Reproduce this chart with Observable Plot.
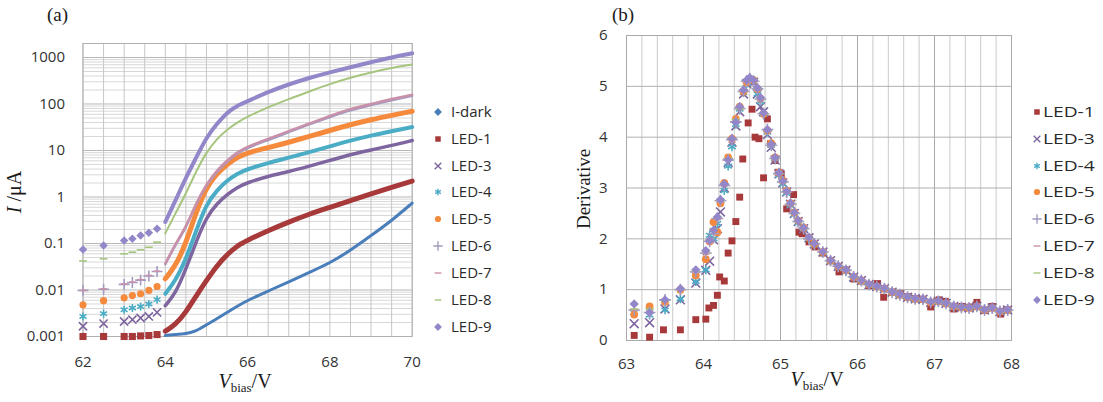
<!DOCTYPE html>
<html><head><meta charset="utf-8">
<script src="https://cdn.jsdelivr.net/npm/d3@7"></script>
<script src="https://cdn.jsdelivr.net/npm/@observablehq/plot@0.6"></script>
<style>
body{margin:0;background:#fff;}
#root{position:relative;width:1103px;height:402px;overflow:hidden;font-family:"Open Sans",sans-serif;background:#fff;}
.abs{position:absolute;white-space:nowrap;}
.serif{font-family:"Liberation Serif","DejaVu Serif",serif;color:#1a1a1a;line-height:1;}
.rot{transform:translate(-50%,-50%) rotate(-90deg);}
.ctr{transform:translate(-50%,-50%);}
.leg{font-family:"Open Sans",sans-serif;font-size:15px;color:#2a2a2a;line-height:1;}
</style></head><body><div id="root"></div>
<script>
// ---------------- DATA: panel (a) ----------------
const namesA = ["I-dark","LED-1","LED-3","LED-4","LED-5","LED-6","LED-7","LED-8","LED-9"];
const voltsA = [62, 62.5, 63, 63.2, 63.4, 63.6, 63.8, 64, 64.25, 64.5, 64.75, 65, 65.25, 65.5, 65.75, 66, 66.5, 67, 67.5, 68, 68.5, 69, 69.5, 70];
const xTicksA = [62, 64, 66, 68, 70];
const yTicksA = [0.001, 0.01, 0.1, 1, 10, 100, 1000];
const iDark = [null, null, null, null, null, null, null, 0.00105, 0.0011, 0.00115, 0.0013, 0.0018, 0.0024, 0.0033, 0.0045, 0.006, 0.0095, 0.015, 0.024, 0.038, 0.071, 0.148, 0.31, 0.74];
const led1A = [0.001, 0.001, 0.001, 0.001, 0.00103, 0.00105, 0.0011, 0.0013, 0.0018, 0.0033, 0.0075, 0.016, 0.033, 0.058, 0.09, 0.118, 0.19, 0.29, 0.43, 0.6, 0.84, 1.17, 1.62, 2.2];
const led3A = [0.00166, 0.0019, 0.0021, 0.0023, 0.0025, 0.0027, 0.0033, 0.0046, 0.0085, 0.028, 0.11, 0.37, 0.71, 1.13, 1.62, 2.05, 2.8, 3.5, 4.6, 6.1, 8.2, 10.3, 12.8, 16.4];
const led4A = [0.0027, 0.0031, 0.00375, 0.0041, 0.0044, 0.005, 0.0062, 0.0083, 0.016, 0.045, 0.19, 0.71, 1.38, 2.26, 3.2, 4.0, 5.4, 7.0, 9.2, 12.2, 16.4, 21, 26, 32];
const led5A = [0.0048, 0.0059, 0.0068, 0.0076, 0.0083, 0.0098, 0.0119, 0.0174, 0.033, 0.1, 0.48, 1.62, 3.2, 5.0, 7.2, 9.0, 11.5, 15, 20, 27, 36, 46, 57, 70];
const led6A = [0.0098, 0.0104, 0.0132, 0.0145, 0.0163, 0.02, 0.025, 0.035, 0.093, 0.21, 0.7, 1.78, 3.45, 5.7, 8.6, 11.4, 16.6, 24.5, 36, 52, 74, 93, 120, 148];
const led7A = [0.0098, 0.0106, 0.0135, 0.0148, 0.0167, 0.0205, 0.0253, 0.037, 0.1, 0.224, 0.75, 1.9, 3.7, 6.1, 9.2, 12.2, 17.8, 26, 38, 56, 79, 100, 129, 158];
const led8A = [0.042, 0.047, 0.06, 0.065, 0.073, 0.083, 0.107, 0.166, 0.45, 1.17, 3.6, 9.2, 17.8, 28, 40, 54, 85, 128, 185, 270, 370, 480, 600, 708];
const led9A = [0.074, 0.091, 0.116, 0.126, 0.148, 0.17, 0.208, 0.29, 0.85, 2.6, 7, 19.3, 37, 66, 93, 115, 182, 265, 365, 480, 620, 790, 1010, 1230];

// ---------------- DATA: panel (b) ----------------
const namesB = ["LED-1","LED-3","LED-4","LED-5","LED-6","LED-7","LED-8","LED-9"];
const xTicksB = [63, 64, 65, 66, 67, 68];
const yTicksB = [0, 1, 2, 3, 4, 5, 6];
const voltsB1 = [63.1, 63.3, 63.48, 63.7, 63.9, 64.03, 64.07, 64.13, 64.18, 64.21, 64.27, 64.32, 64.37, 64.42, 64.47, 64.51, 64.58, 64.63, 64.67, 64.72, 64.78, 64.83, 64.87, 64.93, 64.97, 65.01, 65.08, 65.17, 65.24, 65.28, 65.37, 65.45, 65.55, 65.65, 65.76, 65.84, 65.95, 66.05, 66.15, 66.26, 66.34, 66.45, 66.56, 66.65, 66.75, 66.84, 66.95, 67.06, 67.14, 67.25, 67.36, 67.47, 67.55, 67.64, 67.75, 67.86, 67.94];
const led1B = [0.1, 0.065, 0.21, 0.21, 0.41, 0.42, 0.64, 0.69, 0.89, 1.25, 1.17, 1.72, 1.96, 2.34, 2.82, 3.57, 4.28, 4.55, 4.0, 3.97, 3.2, 4.36, 3.87, 3.54, 3.31, 3.28, 2.59, 2.87, 2.13, 2.10, 1.94, 1.84, 1.72, 1.57, 1.35, 1.39, 1.21, 1.17, 1.08, 1.12, 0.85, 0.95, 0.92, 0.86, 0.82, 0.81, 0.66, 0.80, 0.77, 0.62, 0.67, 0.66, 0.75, 0.59, 0.67, 0.52, 0.60];
const voltsB = [63.1, 63.3, 63.5, 63.7, 63.9,
  64.03, 64.08, 64.13, 64.18, 64.22, 64.27, 64.32, 64.37, 64.42, 64.47,
  64.52, 64.56, 64.6, 64.65, 64.7, 64.74, 64.78, 64.83, 64.88, 64.93,
  64.98, 65.03, 65.08, 65.13, 65.18, 65.23, 65.3, 65.37, 65.44, 65.55,
  65.65, 65.75, 65.85, 65.95, 66.05, 66.15, 66.25, 66.35, 66.45, 66.55,
  66.65, 66.75, 66.85, 66.95, 67.05, 67.15, 67.25, 67.35, 67.45, 67.55,
  67.65, 67.75, 67.85, 67.95];
const led3B = [0.33, 0.35, 0.62, 0.80, 1.13,
  1.38, 1.56, 1.98, 2.20, 2.53, 3.00, 3.50, 3.90, 4.22, 4.50,
  4.85, 5.05, 5.10, 5.08, 4.85, 4.60, 4.50, 4.05, 3.80, 3.55,
  3.28, 3.10, 2.92, 2.68, 2.50, 2.34, 2.20, 2.02, 1.90, 1.74,
  1.57, 1.46, 1.38, 1.25, 1.18, 1.10, 1.06, 1.02, 0.95, 0.90,
  0.85, 0.82, 0.81, 0.75, 0.77, 0.73, 0.67, 0.65, 0.64, 0.67,
  0.60, 0.64, 0.57, 0.60];
const led4B = [0.55, 0.50, 0.60, 0.82, 1.16,
  1.39, 2.07, 2.00, 2.30, 2.75, 2.95, 3.43, 3.81, 4.25, 4.55,
  4.88, 5.05, 5.12, 5.10, 4.85, 4.70, 4.45, 4.10, 3.84, 3.58,
  3.25, 3.08, 2.90, 2.66, 2.48, 2.32, 2.20, 2.00, 1.88, 1.73,
  1.56, 1.45, 1.37, 1.24, 1.17, 1.10, 1.05, 1.01, 0.95, 0.89,
  0.85, 0.81, 0.80, 0.75, 0.76, 0.72, 0.66, 0.65, 0.63, 0.66,
  0.60, 0.63, 0.57, 0.59];
const led5B = [0.51, 0.67, 0.76, 1.00, 1.28,
  1.60, 1.95, 2.33, 2.13, 2.70, 3.10, 3.60, 3.97, 4.36, 4.60,
  4.90, 5.08, 5.15, 5.12, 4.95, 4.76, 4.46, 4.13, 3.88, 3.60,
  3.30, 3.15, 2.95, 2.70, 2.52, 2.36, 2.22, 2.02, 1.90, 1.74,
  1.57, 1.46, 1.38, 1.25, 1.18, 1.10, 1.06, 1.02, 0.95, 0.90,
  0.85, 0.82, 0.81, 0.75, 0.77, 0.73, 0.67, 0.65, 0.64, 0.67,
  0.60, 0.64, 0.57, 0.60];
const led6B = [0.60, 0.55, 0.80, 1.00, 1.35,
  1.72, 1.95, 2.10, 2.40, 2.75, 3.05, 3.55, 3.95, 4.30, 4.56,
  4.90, 5.10, 5.15, 5.10, 4.95, 4.75, 4.46, 4.15, 3.84, 3.58,
  3.28, 3.12, 2.92, 2.68, 2.50, 2.34, 2.20, 2.00, 1.90, 1.74,
  1.57, 1.46, 1.38, 1.25, 1.18, 1.10, 1.06, 1.02, 0.95, 0.90,
  0.85, 0.82, 0.81, 0.75, 0.77, 0.73, 0.67, 0.65, 0.64, 0.67,
  0.60, 0.64, 0.57, 0.60];
const led7B = [0.60, 0.60, 0.78, 1.00, 1.33,
  1.70, 1.92, 2.15, 2.38, 2.72, 3.05, 3.55, 3.90, 4.30, 4.56,
  4.90, 5.08, 5.13, 5.10, 4.92, 4.72, 4.44, 4.10, 3.82, 3.56,
  3.26, 3.10, 2.90, 2.66, 2.49, 2.33, 2.20, 2.00, 1.89, 1.73,
  1.57, 1.45, 1.38, 1.25, 1.17, 1.10, 1.05, 1.02, 0.95, 0.90,
  0.85, 0.82, 0.80, 0.75, 0.77, 0.73, 0.67, 0.65, 0.64, 0.67,
  0.60, 0.64, 0.57, 0.60];
const led8B = [0.62, 0.62, 0.78, 1.00, 1.36,
  1.74, 1.98, 2.20, 2.42, 2.76, 3.08, 3.58, 3.95, 4.35, 4.56,
  4.92, 5.10, 5.15, 5.13, 4.95, 4.76, 4.46, 4.13, 3.84, 3.58,
  3.28, 3.12, 2.92, 2.68, 2.50, 2.34, 2.21, 2.01, 1.90, 1.74,
  1.58, 1.46, 1.38, 1.25, 1.18, 1.10, 1.06, 1.02, 0.95, 0.90,
  0.85, 0.82, 0.81, 0.75, 0.77, 0.73, 0.67, 0.65, 0.64, 0.67,
  0.60, 0.64, 0.57, 0.60];
const led9B = [0.72, 0.55, 0.80, 1.02, 1.39,
  1.77, 1.97, 2.17, 2.43, 2.77, 3.08, 3.55, 3.97, 4.30, 4.60,
  4.93, 5.12, 5.17, 5.12, 4.97, 4.78, 4.48, 4.15, 3.86, 3.60,
  3.30, 3.14, 2.94, 2.70, 2.52, 2.36, 2.22, 2.03, 1.91, 1.75,
  1.58, 1.47, 1.39, 1.26, 1.19, 1.11, 1.07, 1.03, 0.96, 0.91,
  0.86, 0.83, 0.82, 0.76, 0.78, 0.74, 0.68, 0.66, 0.65, 0.68,
  0.61, 0.65, 0.58, 0.61];

// ---------------- STYLES ----------------
const diamondSq = {draw(ctx, size){ const r = Math.sqrt(size/2); ctx.moveTo(0,-r); ctx.lineTo(r,0); ctx.lineTo(0,r); ctx.lineTo(-r,0); ctx.closePath(); }};
const dash = {draw(ctx, size){ const r = Math.sqrt(size/Math.PI); ctx.moveTo(-r*1.1,0); ctx.lineTo(r*1.1,0); }};
const style = {
  "I-dark": {color:"#4A7EBB", symbol:diamondSq, filled:true, r:2.6, lw:3},
  "LED-1": {color:"#A8393A", symbol:"square", filled:true, r:4, lw:5},
  "LED-3": {color:"#7E659F", symbol:"times", filled:false, r:3.8, lw:3.5},
  "LED-4": {color:"#4BACC6", symbol:"asterisk", filled:false, r:3.8, lw:4},
  "LED-5": {color:"#F58A3C", symbol:"circle", filled:true, r:3.6, lw:5},
  "LED-6": {color:"#A39BC0", symbol:"plus", filled:false, r:3.6, lw:2},
  "LED-7": {color:"#C990AA", symbol:dash, filled:false, r:3, lw:2.5},
  "LED-8": {color:"#A6C57E", symbol:dash, filled:false, r:3.5, lw:2},
  "LED-9": {color:"#9487C9", symbol:diamondSq, filled:true, r:3.4, lw:4}
};
const d3sym = {square:d3.symbolSquare, times:d3.symbolTimes, asterisk:d3.symbolAsterisk, circle:d3.symbolCircle, plus:d3.symbolPlus};

const valuesA = {"I-dark":iDark,"LED-1":led1A,"LED-3":led3A,"LED-4":led4A,"LED-5":led5A,"LED-6":led6A,"LED-7":led7A,"LED-8":led8A,"LED-9":led9A};
const seriesB = {"LED-1":[voltsB1,led1B],"LED-3":[voltsB,led3B],"LED-4":[voltsB,led4B],"LED-5":[voltsB,led5B],"LED-6":[voltsB,led6B],"LED-7":[voltsB,led7B],"LED-8":[voltsB,led8B],"LED-9":[voltsB,led9B]};

function dotOpts(name, r){
  const s = style[name];
  return s.filled ? {fill:s.color, stroke:"none", symbol:s.symbol, r}
                  : {fill:"none", stroke:s.color, strokeWidth:1.6, symbol:s.symbol, r};
}

const root = document.getElementById("root");

// ---------------- PANEL (a) ----------------
const yMinor = [];
for (let k = -3; k <= 3; k++) for (let m = 2; m <= 9; m++) { const v = m * Math.pow(10, k); if (v < 2000) yMinor.push(v); }
const gridXA = d3.range(62, 70.001, 0.5);

const lineMarks = [], dotMarks = [];
for (const n of namesA) {
  const data = voltsA.map((v, i) => ({v, c: valuesA[n][i]})).filter(d => d.c != null);
  lineMarks.push(Plot.line(data.filter(d => d.v >= 64), {x:"v", y:"c", stroke:style[n].color, strokeWidth:style[n].lw, curve:"basis"}));
  dotMarks.push(Plot.dot(data.filter(d => d.v < 64), {x:"v", y:"c", ...dotOpts(n, style[n].r)}));
}

const left = Plot.plot({
  width:430, height:402, marginLeft:82.5, marginRight:18.3, marginTop:43, marginBottom:66,
  style:{fontFamily:"'Open Sans', sans-serif", fontSize:"15px", color:"#333", background:"transparent"},
  x:{domain:[62,70]},
  y:{type:"log", domain:[0.001,2000]},
  marks:[
    Plot.ruleY(yMinor, {stroke:"#d8d8d8"}),
    Plot.ruleY(yTicksA, {stroke:"#b8b8b8"}),
    Plot.ruleX(gridXA, {stroke:"#c6c6c6"}),
    Plot.frame({stroke:"#b0b0b0"}),
    Plot.axisX({ticks:xTicksA, tickSize:0, tickPadding:20, label:null, tickFormat:d => String(d)}),
    Plot.axisY({ticks:yTicksA, tickSize:0, tickPadding:18, label:null, tickFormat:d => String(d)}),
    ...lineMarks, ...dotMarks
  ]
});
left.style.position = "absolute"; left.style.left = "0px"; left.style.top = "0px";
root.appendChild(left);

// ---------------- PANEL (b) ----------------
const gridXB = d3.range(63, 68.001, 0.2);
const dotsB = namesB.map(n => {
  const [xs, ys] = seriesB[n];
  const data = xs.map((v, i) => ({v, d: ys[i]}));
  return Plot.dot(data, {x:"v", y:"d", ...dotOpts(n, n === "LED-1" ? 3.9 : style[n].r + 0.3)});
});
const right = Plot.plot({
  width:480, height:402, marginLeft:86, marginRight:9, marginTop:35, marginBottom:62,
  style:{fontFamily:"'Open Sans', sans-serif", fontSize:"15px", color:"#333", background:"transparent"},
  x:{domain:[63,68]},
  y:{domain:[0,6]},
  marks:[
    Plot.ruleX(gridXB, {stroke:"#cacaca"}),
    Plot.ruleX(xTicksB, {stroke:"#a9a9a9"}),
    Plot.ruleY(yTicksB, {stroke:"#b0b0b0"}),
    Plot.frame({stroke:"#a9a9a9"}),
    Plot.axisX({ticks:xTicksB, tickSize:0, tickPadding:18, label:null, tickFormat:d => String(d)}),
    Plot.axisY({ticks:yTicksB, tickSize:0, tickPadding:19, label:null, tickFormat:d => String(d)}),
    ...dotsB
  ]
});
right.style.position = "absolute"; right.style.left = "540px"; right.style.top = "0px";
root.appendChild(right);

// ---------------- TEXT ----------------
function addText(html, cls, css){
  const d = document.createElement("div");
  d.className = "abs " + cls; d.innerHTML = html; Object.assign(d.style, css); root.appendChild(d); return d;
}
const vbias = '<i>V</i><sub style="font-size:13px;vertical-align:-4px">bias</sub>/V';
addText("(a)", "serif", {left:"47px", top:"5px", fontSize:"19px"});
addText("(b)", "serif", {left:"612px", top:"5px", fontSize:"19px"});
addText(vbias, "serif ctr", {left:"245px", top:"382px", fontSize:"20px"});
addText(vbias, "serif ctr", {left:"817px", top:"380px", fontSize:"20px"});
addText('<i>I</i> /μA', "serif rot", {left:"14px", top:"192px", fontSize:"20px"});
addText('Derivative', "serif rot", {left:"583px", top:"189px", fontSize:"19px"});

// ---------------- LEGENDS ----------------
function legend(names, markerX, textX, y0, step, stretch){
  names.forEach((n, i) => {
    const y = y0 + i * step, s = style[n];
    const sym = typeof s.symbol === "string" ? d3sym[s.symbol] : s.symbol;
    const size = Math.PI * 3.1 * 3.1;
    const svg = d3.create("svg").attr("width", 16).attr("height", 16)
      .style("position","absolute").style("left", (markerX-8)+"px").style("top", (y-8)+"px");
    svg.append("path").attr("transform","translate(8,8)").attr("d", d3.symbol(sym, size)())
      .attr("fill", s.filled ? s.color : "none").attr("stroke", s.filled ? "none" : s.color).attr("stroke-width", 1.4);
    root.appendChild(svg.node());
    addText(n, "leg", {left:textX+"px", top:(y-8)+"px", transform:`scaleX(${stretch})`, transformOrigin:"0 0"});
  });
}
legend(namesA, 438, 451, 111.7, 26.9, 1);
legend(namesB, 1037, 1043, 111.7, 26.9, 1.28);
</script></body></html>
